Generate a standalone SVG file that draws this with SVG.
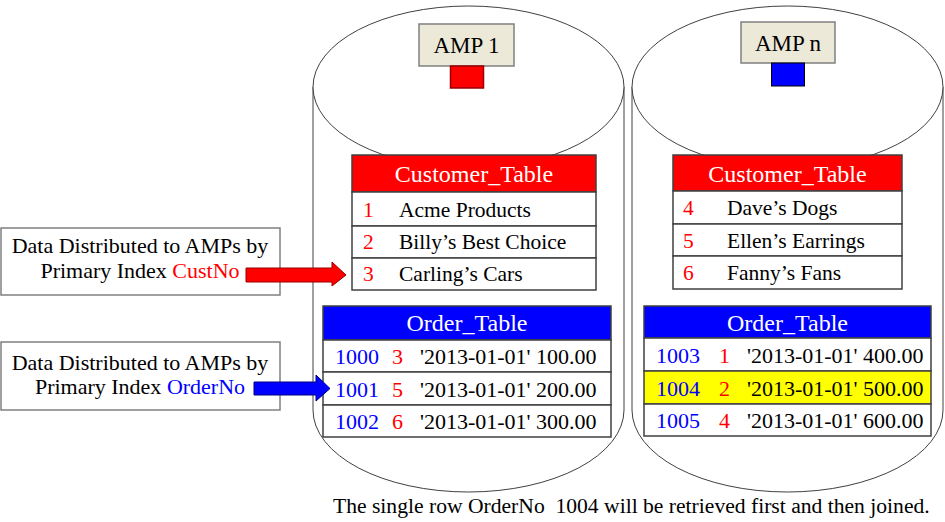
<svg xmlns="http://www.w3.org/2000/svg" width="945" height="522" viewBox="0 0 945 522">
<style>
text{font-family:"Liberation Serif","Times New Roman",serif;fill:#000}
.cyl{fill:#fff;stroke:#404040;stroke-width:1}
.amp{fill:#ECE9D8;stroke:#808080;stroke-width:1.5}
.hdr{font-size:24px;fill:#fff;text-anchor:middle}
.row{fill:#fff;stroke:#404040;stroke-width:1.5}
.ct{font-size:21.5px}
.ot{font-size:22px}
.r{fill:#f00}
.b{fill:#00f}
.lbl{fill:#fff;stroke:#808080;stroke-width:1.5}
.lt{font-size:22px;text-anchor:middle}
</style>
<g id="cylinder1">
<path class="cyl" d="M313,87 L313,410 A155.5,82 0 0 0 624,410 L624,87"/>
<ellipse class="cyl" cx="468.5" cy="87" rx="155.5" ry="81"/>
</g>
<g id="cylinder2">
<path class="cyl" d="M632,87 L632,410 A155.5,82 0 0 0 943,410 L943,87"/>
<ellipse class="cyl" cx="787.5" cy="87" rx="155.5" ry="81"/>
</g>
<g id="amp1">
<rect class="amp" x="419" y="24" width="95" height="42"/>
<text x="466.5" y="53" font-size="23" text-anchor="middle">AMP 1</text>
<rect x="450.5" y="66" width="33" height="22" fill="#f00" stroke="#900" stroke-width="1.5"/>
</g>
<g id="ampn">
<rect class="amp" x="741" y="22" width="94" height="41"/>
<text x="788" y="51" font-size="23" text-anchor="middle">AMP n</text>
<rect x="771.5" y="63" width="33" height="23" fill="#00f" stroke="#000" stroke-width="1"/>
</g>
<g id="customer_table_1">
<rect x="352" y="155" width="244" height="37" fill="#f00" stroke="#404040" stroke-width="1.5"/>
<text class="hdr" x="474" y="182">Customer_Table</text>
<rect class="row" x="352" y="192" width="244" height="34"/>
<rect class="row" x="352" y="226" width="244" height="32"/>
<rect class="row" x="352" y="258" width="244" height="32"/>
<text class="ct" y="217"><tspan class="r" x="363">1</tspan><tspan x="399">Acme Products</tspan></text>
<text class="ct" y="249"><tspan class="r" x="363">2</tspan><tspan x="399">Billy’s Best Choice</tspan></text>
<text class="ct" y="281"><tspan class="r" x="363">3</tspan><tspan x="399">Carling’s Cars</tspan></text>
</g>
<g id="customer_table_2">
<rect x="673" y="155" width="229" height="36" fill="#f00" stroke="#404040" stroke-width="1.5"/>
<text class="hdr" x="787.5" y="182">Customer_Table</text>
<rect class="row" x="673" y="191" width="229" height="33"/>
<rect class="row" x="673" y="224" width="229" height="32"/>
<rect class="row" x="673" y="256" width="229" height="33"/>
<text class="ct" y="215"><tspan class="r" x="683">4</tspan><tspan x="727">Dave’s Dogs</tspan></text>
<text class="ct" y="248"><tspan class="r" x="683">5</tspan><tspan x="727">Ellen’s Earrings</tspan></text>
<text class="ct" y="280"><tspan class="r" x="683">6</tspan><tspan x="727">Fanny’s Fans</tspan></text>
</g>
<g id="order_table_1">
<rect x="323" y="306" width="288" height="34" fill="#00f" stroke="#404040" stroke-width="1.5"/>
<text class="hdr" x="467" y="331">Order_Table</text>
<rect class="row" x="323" y="340" width="288" height="32"/>
<rect class="row" x="323" y="372" width="288" height="33"/>
<rect class="row" x="323" y="405" width="288" height="32"/>
<text class="ot" y="364"><tspan class="b" x="335">1000</tspan><tspan class="r" x="392">3</tspan><tspan x="420">'2013-01-01'</tspan><tspan x="536">100.00</tspan></text>
<text class="ot" y="397"><tspan class="b" x="335">1001</tspan><tspan class="r" x="392">5</tspan><tspan x="420">'2013-01-01'</tspan><tspan x="536">200.00</tspan></text>
<text class="ot" y="429"><tspan class="b" x="335">1002</tspan><tspan class="r" x="392">6</tspan><tspan x="420">'2013-01-01'</tspan><tspan x="536">300.00</tspan></text>
</g>
<g id="order_table_2">
<rect x="644" y="306" width="287" height="32" fill="#00f" stroke="#404040" stroke-width="1.5"/>
<text class="hdr" x="787.5" y="331">Order_Table</text>
<rect class="row" x="644" y="338" width="287" height="33"/>
<rect x="644" y="371" width="287" height="33" fill="#ff0" stroke="#404040" stroke-width="1.5"/>
<rect class="row" x="644" y="404" width="287" height="32"/>
<text class="ot" y="363"><tspan class="b" x="656">1003</tspan><tspan class="r" x="719">1</tspan><tspan x="747">'2013-01-01'</tspan><tspan x="863">400.00</tspan></text>
<text class="ot" y="396"><tspan class="b" x="656">1004</tspan><tspan class="r" x="719">2</tspan><tspan x="747">'2013-01-01'</tspan><tspan x="863">500.00</tspan></text>
<text class="ot" y="428"><tspan class="b" x="656">1005</tspan><tspan class="r" x="719">4</tspan><tspan x="747">'2013-01-01'</tspan><tspan x="863">600.00</tspan></text>
</g>
<g id="label_custno">
<rect class="lbl" x="1" y="228" width="279" height="67"/>
<text class="lt" x="140" y="253">Data Distributed to AMPs by</text>
<text class="lt" x="140" y="278">Primary Index <tspan class="r">CustNo</tspan></text>
</g>
<g id="label_orderno">
<rect class="lbl" x="1" y="342" width="279" height="68"/>
<text class="lt" x="140" y="370">Data Distributed to AMPs by</text>
<text class="lt" x="140" y="394">Primary Index <tspan class="b">OrderNo</tspan></text>
</g>
<g id="connectors">
<path d="M246,268 L332,268 L332,262 L346,275 L332,286 L332,282 L246,282 Z" fill="#f00" stroke="#900" stroke-width="1"/>
<path d="M254,382 L316,382 L316,375 L330,388.5 L316,401 L316,395 L254,395 Z" fill="#00f" stroke="#000080" stroke-width="1"/>
</g>
<text x="333" y="513" font-size="21.6" xml:space="preserve">The single row OrderNo  1004 will be retrieved first and then joined.</text>
</svg>
